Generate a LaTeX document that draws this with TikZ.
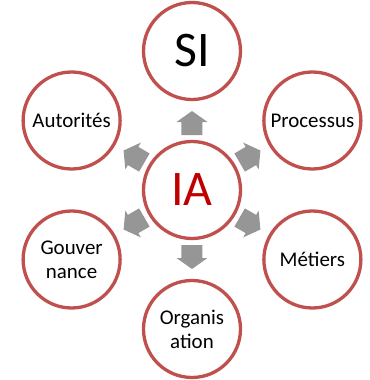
\documentclass[tikz,border=0pt]{standalone}
\usepackage{fontspec}
\setmainfont{Carlito}
\usepackage{tikz}
\usetikzlibrary{positioning}

\definecolor{ringred}{RGB}{192,80,77}
\definecolor{iared}{RGB}{192,0,0}
\definecolor{arrowgray}{RGB}{150,150,150}

\tikzset{
  ring/.style={circle, draw=ringred, line width=3.3bp, fill=white,
    minimum size=97bp, inner sep=0pt, align=center,
    font=\fontsize{21}{24}\selectfont},
  bigring/.style={ring, font=\fontsize{50}{50}\selectfont},
  blockarrow/.style={fill=arrowgray}
}

\begin{document}
\begin{tikzpicture}[x=1bp, y=1bp]

\useasboundingbox (-192,-190) rectangle (178,190);

\node[bigring, text=iared] (ia) at (0,0) {IA};

\node[bigring] (si) at (90:139) {SI};
\node[ring] (proc) at (30:139) {Processus};
\node[ring] (met) at (-30:139) {Métiers};
\node[ring] (org) at (-90:139) {Organis\\ation};
\node[ring] (gouv) at (210:139) {Gouver\\nance};
\node[ring] (aut) at (150:139) {Autorités};

% block arrows from IA outwards
\foreach \a in {90, 30, -30, -90, 210, 150} {
  \fill[blockarrow, rotate=\a] (55,-10.5) -- (68,-10.5) -- (68,-15.5) -- (79,0)
    -- (68,15.5) -- (68,10.5) -- (55,10.5) -- cycle;
}

\end{tikzpicture}
\end{document}
